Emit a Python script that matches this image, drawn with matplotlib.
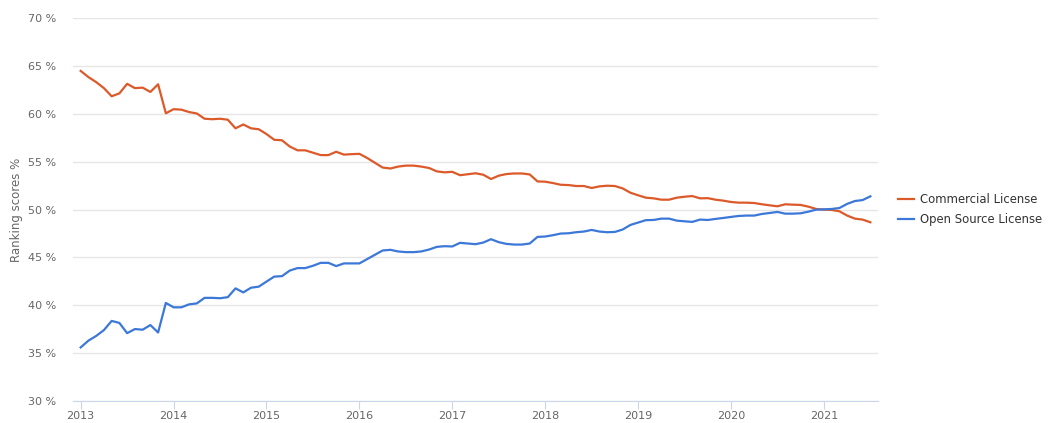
import matplotlib.pyplot as plt
from matplotlib.ticker import FuncFormatter

# Monthly ranking scores (%), Jan 2013 .. Jul 2021
start_year = 2013
years = [2013, 2014, 2015, 2016, 2017, 2018, 2019, 2020, 2021]
legend_labels = ["Commercial License", "Open Source License"]

commercial = [
    64.5, 63.85, 63.33, 62.7, 61.85, 62.15, 63.15, 62.7, 62.75, 62.3, 63.1, 60.07,
    60.5, 60.45, 60.2, 60.05, 59.5, 59.45, 59.5, 59.4, 58.5, 58.9, 58.5, 58.4,
    57.9, 57.3, 57.25, 56.6, 56.2, 56.2, 55.95, 55.7, 55.7, 56.05, 55.75, 55.8,
    55.83, 55.4, 54.9, 54.4, 54.3, 54.5, 54.6, 54.6, 54.5, 54.35, 54.0, 53.9,
    53.95, 53.6, 53.7, 53.8, 53.65, 53.2, 53.55, 53.72, 53.78, 53.78, 53.68, 52.95,
    52.92, 52.78, 52.6, 52.57, 52.47, 52.47, 52.26, 52.43, 52.5, 52.47, 52.22, 51.77,
    51.5, 51.25, 51.18, 51.04, 51.04, 51.25, 51.35, 51.42, 51.18, 51.2, 51.04, 50.94,
    50.8, 50.73, 50.73, 50.69, 50.56, 50.45, 50.35, 50.56, 50.52, 50.49, 50.31, 50.07,
    50.0, 49.97, 49.83, 49.38, 49.06, 48.96, 48.68,
]

open_source = [
    35.6, 36.31, 36.8, 37.41, 38.37, 38.16, 37.09, 37.52, 37.45, 37.94, 37.16, 40.25,
    39.79, 39.79, 40.1, 40.2, 40.78, 40.78, 40.74, 40.85, 41.77, 41.35, 41.84, 41.95,
    42.48, 43.0, 43.05, 43.63, 43.89, 43.89, 44.13, 44.44, 44.44, 44.1, 44.38, 44.38,
    44.38, 44.83, 45.28, 45.73, 45.8, 45.63, 45.56, 45.56, 45.63, 45.83, 46.11, 46.18,
    46.15, 46.53, 46.46, 46.39, 46.56, 46.91, 46.6, 46.42, 46.35, 46.35, 46.46, 47.15,
    47.19, 47.33, 47.5, 47.53, 47.64, 47.71, 47.88, 47.71, 47.64, 47.67, 47.92, 48.4,
    48.65, 48.9, 48.92, 49.06, 49.06, 48.85, 48.78, 48.72, 48.96, 48.92, 49.03, 49.13,
    49.24, 49.34, 49.38, 49.38, 49.55, 49.65, 49.76, 49.58, 49.58, 49.62, 49.79, 50.0,
    50.03, 50.07, 50.17, 50.6, 50.9, 51.0, 51.39,
]

# x positions as decimal years
t = [start_year + i / 12 for i in range(len(commercial))]

fig = plt.figure(figsize=(10.5, 4.23), dpi=100)
ax = fig.add_axes([0.0695, 0.052, 0.7665, 0.9048])

ax.plot(t, commercial, color="#DC5A2A", lw=1.6, label=legend_labels[0])
ax.plot(t, open_source, color="#3B78D8", lw=1.6, label=legend_labels[1])

ax.set_xlim(2012.917, 2021.58)
ax.set_ylim(30, 70)
ax.set_xticks(years)
ax.set_yticks(range(30, 71, 5))
ax.yaxis.set_major_formatter(FuncFormatter(lambda v, p: f"{int(v)} %"))

ax.grid(axis="y", color="#e6e6e6", lw=1)
ax.set_axisbelow(True)
for s in ["top", "right", "left"]:
    ax.spines[s].set_visible(False)
ax.spines["bottom"].set_color("#ccd6eb")

ax.tick_params(axis="y", length=0, pad=12, labelsize=8, labelcolor="#666666")
ax.tick_params(axis="x", length=6, color="#ccd6eb", pad=1, labelsize=8, labelcolor="#666666")

ax.set_ylabel("Ranking scores %", color="#666666", fontsize=8.5, labelpad=4)

ax.legend(loc="center left", bbox_to_anchor=(1.012, 0.5), frameon=False,
          fontsize=8.4, handlelength=1.4, handletextpad=0.5,
          labelcolor="#333333", labelspacing=0.55)

fig.savefig("out.png", dpi=100)
